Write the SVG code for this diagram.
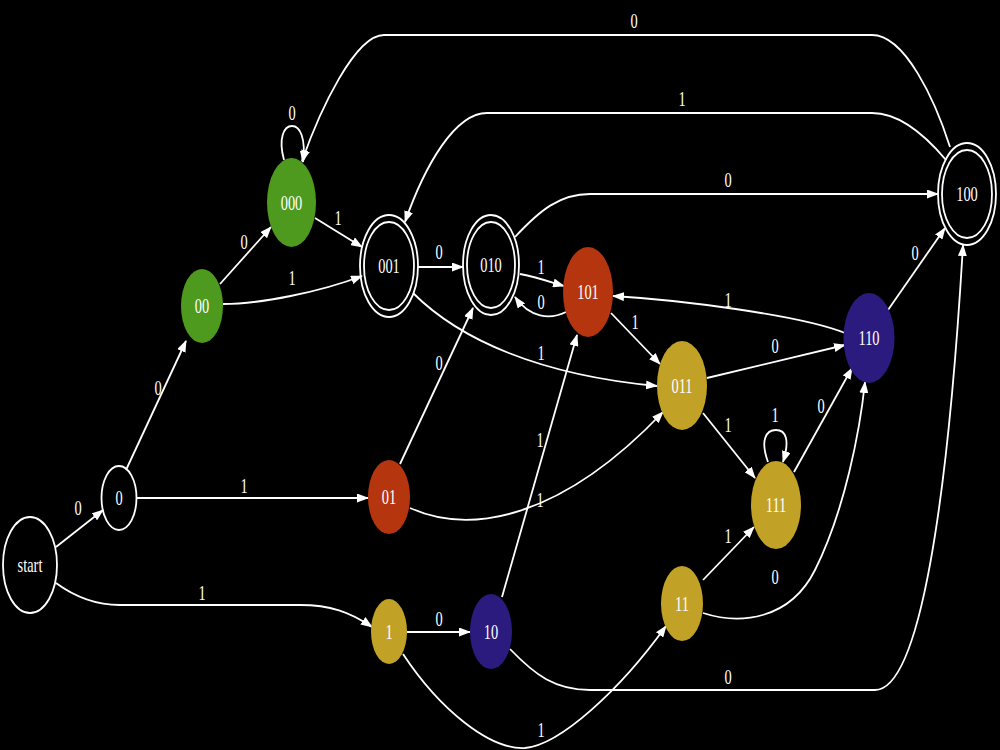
<svg xmlns="http://www.w3.org/2000/svg" width="1000" height="750" viewBox="0 0 1000 750">
<defs>
<style>
.e{fill:none;stroke:#fff;stroke-width:1.8;marker-end:url(#a)}
.t{font-family:"Liberation Serif","Times New Roman",serif;font-size:20px;fill:#fff;text-anchor:middle}
.o{fill:none;stroke:#fff;stroke-width:1.8}
.g{fill:#4e9a1f}
.r{fill:#b5350f}
.y{fill:#c2a127}
.b{fill:#2b1b7e}
</style>
<marker id="a" viewBox="0 0 12 9" refX="11" refY="4.5" markerWidth="12" markerHeight="9" markerUnits="userSpaceOnUse" orient="auto">
<path d="M0,0 L12,4.5 L0,9 Z" fill="#fff"/>
</marker>
</defs>
<rect width="1000" height="750" fill="#000"/>
<g id="edges">
<path class="e" d="M56,547 L103,510"/>
<path class="e" d="M56,583 C75,597 95,605 120,605 L300,605 C330,605 350,612 372,627"/>
<path class="e" d="M126,470 L186,341"/>
<path class="e" d="M137,498 L368,498"/>
<path class="e" d="M220,284 L271,227"/>
<path class="e" d="M223,304 C260,304 320,292 362,276"/>
<path class="e" d="M284,160 C278,138 284,126 292,126 C300,126 306,138 303,162"/>
<path class="e" d="M315,218 L362,247"/>
<path class="e" d="M418,267 L463,267"/>
<path class="e" d="M413,293 C460,340 540,375 657,386"/>
<path class="e" d="M520,274 C540,278 550,282 564,286"/>
<path class="e" d="M566,312 C550,320 530,318 515,297"/>
<path class="e" d="M515,237 C540,210 560,194 590,194 L938,194"/>
<path class="e" d="M400,464 L473,308"/>
<path class="e" d="M410,508 C470,535 560,520 663,412"/>
<path class="e" d="M407,632 L470,632"/>
<path class="e" d="M403,654 C440,710 490,750 525,748 C560,745 620,690 666,626"/>
<path class="e" d="M502,597 L577,335"/>
<path class="e" d="M510,649 C535,675 555,690 590,690 L875,690 C920,690 948,500 963,245"/>
<path class="e" d="M611,313 L660,364"/>
<path class="e" d="M707,378 L845,345"/>
<path class="e" d="M703,413 L755,478"/>
<path class="e" d="M768,462 C760,440 766,430 776,430 C786,430 790,440 783,462"/>
<path class="e" d="M794,472 L852,368"/>
<path class="e" d="M703,580 L754,527"/>
<path class="e" d="M703,613 C740,625 790,620 815,570 C845,510 860,430 865,382"/>
<path class="e" d="M845,333 C800,315 680,300 613,296"/>
<path class="e" d="M888,310 L945,228"/>
<path class="e" d="M950,147 C935,100 905,35 872,35 L384,35 C355,35 320,110 302,161"/>
<path class="e" d="M946,160 C925,135 900,113 872,113 L487,113 C455,113 425,165 405,222"/>
<g class="t">
<text transform="matrix(0.72,0,0,1,78,515)">0</text>
<text transform="matrix(0.72,0,0,1,202,600)">1</text>
<text transform="matrix(0.72,0,0,1,158,395)">0</text>
<text transform="matrix(0.72,0,0,1,244,493)">1</text>
<text transform="matrix(0.72,0,0,1,244,249)">0</text>
<text transform="matrix(0.72,0,0,1,292,285)">1</text>
<text transform="matrix(0.72,0,0,1,292,120)">0</text>
<text transform="matrix(0.72,0,0,1,338,225)">1</text>
<text transform="matrix(0.72,0,0,1,439,259)">0</text>
<text transform="matrix(0.72,0,0,1,541,360)">1</text>
<text transform="matrix(0.72,0,0,1,541,274)">1</text>
<text transform="matrix(0.72,0,0,1,541,309)">0</text>
<text transform="matrix(0.72,0,0,1,728,187)">0</text>
<text transform="matrix(0.72,0,0,1,439,370)">0</text>
<text transform="matrix(0.72,0,0,1,540,507)">1</text>
<text transform="matrix(0.72,0,0,1,439,626)">0</text>
<text transform="matrix(0.72,0,0,1,541,737)">1</text>
<text transform="matrix(0.72,0,0,1,540,447)">1</text>
<text transform="matrix(0.72,0,0,1,728,684)">0</text>
<text transform="matrix(0.72,0,0,1,635,329)">1</text>
<text transform="matrix(0.72,0,0,1,775,353)">0</text>
<text transform="matrix(0.72,0,0,1,728,432)">1</text>
<text transform="matrix(0.72,0,0,1,775,422)">1</text>
<text transform="matrix(0.72,0,0,1,821,413)">0</text>
<text transform="matrix(0.72,0,0,1,728,543)">1</text>
<text transform="matrix(0.72,0,0,1,775,584)">0</text>
<text transform="matrix(0.72,0,0,1,728,307)">1</text>
<text transform="matrix(0.72,0,0,1,915,260)">0</text>
<text transform="matrix(0.72,0,0,1,634,28)">0</text>
<text transform="matrix(0.72,0,0,1,682,106)">1</text>
</g>
</g>
<g id="n-start"><ellipse class="o" cx="30" cy="565" rx="27" ry="48"/><text class="t" transform="matrix(0.72,0,0,1,30,572)">start</text></g>
<g id="n-0"><ellipse class="o" cx="119" cy="498" rx="17.5" ry="32"/><text class="t" transform="matrix(0.72,0,0,1,119,505)">0</text></g>
<g id="n-00"><ellipse class="g" cx="202" cy="306" rx="21" ry="37"/><text class="t" transform="matrix(0.72,0,0,1,202,313)">00</text></g>
<g id="n-000"><ellipse class="g" cx="291.5" cy="202.5" rx="24.5" ry="44.5"/><text class="t" transform="matrix(0.72,0,0,1,291.5,209.5)">000</text></g>
<g id="n-001"><ellipse class="o" cx="389" cy="266" rx="29" ry="51"/><ellipse class="o" cx="389" cy="266" rx="25" ry="44"/><text class="t" transform="matrix(0.72,0,0,1,389,273)">001</text></g>
<g id="n-010"><ellipse class="o" cx="491" cy="265" rx="28" ry="50"/><ellipse class="o" cx="491" cy="265" rx="24" ry="43"/><text class="t" transform="matrix(0.72,0,0,1,491,272)">010</text></g>
<g id="n-101"><ellipse class="r" cx="588" cy="292" rx="25" ry="45"/><text class="t" transform="matrix(0.72,0,0,1,588,299)">101</text></g>
<g id="n-011"><ellipse class="y" cx="682" cy="385.5" rx="25" ry="44.5"/><text class="t" transform="matrix(0.72,0,0,1,682,392.5)">011</text></g>
<g id="n-110"><ellipse class="b" cx="869" cy="338" rx="25.5" ry="45"/><text class="t" transform="matrix(0.72,0,0,1,869,345)">110</text></g>
<g id="n-100"><ellipse class="o" cx="967" cy="194" rx="29" ry="51"/><ellipse class="o" cx="967" cy="194" rx="25" ry="44"/><text class="t" transform="matrix(0.72,0,0,1,967,201)">100</text></g>
<g id="n-01"><ellipse class="r" cx="389" cy="497" rx="21" ry="37"/><text class="t" transform="matrix(0.72,0,0,1,389,504)">01</text></g>
<g id="n-111"><ellipse class="y" cx="776" cy="505" rx="25" ry="44"/><text class="t" transform="matrix(0.72,0,0,1,776,512)">111</text></g>
<g id="n-1"><ellipse class="y" cx="389" cy="631.5" rx="18" ry="32.5"/><text class="t" transform="matrix(0.72,0,0,1,389,638.5)">1</text></g>
<g id="n-10"><ellipse class="b" cx="491" cy="631.5" rx="21" ry="37.5"/><text class="t" transform="matrix(0.72,0,0,1,491,638.5)">10</text></g>
<g id="n-11"><ellipse class="y" cx="682" cy="603.5" rx="21" ry="37.5"/><text class="t" transform="matrix(0.72,0,0,1,682,610.5)">11</text></g>
</svg>
